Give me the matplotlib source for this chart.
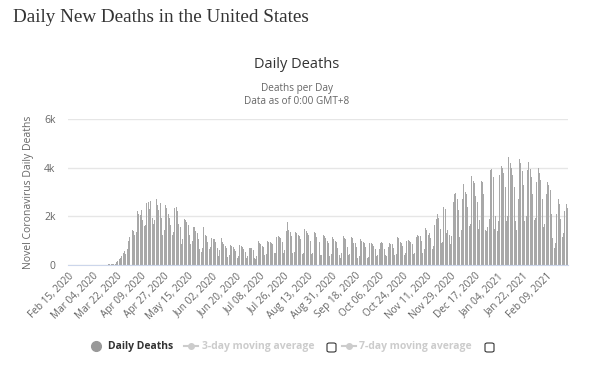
import numpy as np
import pandas as pd
import matplotlib
matplotlib.use("Agg")
import matplotlib.pyplot as plt
from matplotlib.lines import Line2D
from matplotlib.patches import FancyBboxPatch

# Daily deaths, one value per day starting 2020-02-15
feb_2020 = [0, 0, 0, 0, 0, 0, 0, 0, 0, 0, 0, 0, 0, 0, 1]
mar_2020 = [1, 5, 1, 4, 1, 2, 3, 4, 4, 4, 8, 7, 10, 10, 10, 23, 27, 40, 56, 49,
            60, 120, 160, 250, 300, 380, 480, 560, 450, 650, 1000]
apr_2020 = [1150, 1200, 1450, 1400, 1250, 1350, 2200, 2100, 2050, 2250, 1850, 1600,
            1650, 2550, 2600, 2300, 2650, 1950, 1700, 1850, 2700, 2450, 2250, 2550,
            1950, 1250, 1450, 2450, 2350, 2100]
may_2020 = [1950, 1650, 1250, 1350, 2350, 2400, 2200, 1700, 1550, 850, 1050, 1900,
            1850, 1750, 1650, 1250, 850, 1000, 1570, 1550, 1400, 1300, 1050, 650,
            550, 700, 1560, 1250, 1200, 950, 650]
jun_2020 = [750, 1100, 1050, 1050, 950, 700, 380, 600, 1100, 950, 880, 800, 680, 330,
            420, 820, 800, 760, 650, 590, 280, 380, 830, 800, 720, 650, 550, 290,
            380, 700]
jul_2020 = [700, 680, 620, 280, 250, 390, 1000, 920, 880, 800, 720, 420, 450, 980,
            950, 960, 900, 850, 480, 500, 1150, 1200, 1150, 1100, 950, 500, 600,
            1400, 1780, 1450, 1350]
aug_2020 = [1200, 480, 550, 1360, 1300, 1250, 1200, 1050, 450, 500, 1480, 1400, 1300,
            1250, 1000, 450, 480, 1360, 1300, 1150, 1100, 950, 420, 430, 1240, 1200,
            1100, 1000, 900, 380, 450]
sep_2020 = [1150, 1050, 1000, 950, 700, 400, 300, 480, 1200, 1100, 1050, 750, 400,
            450, 1150, 1100, 900, 900, 750, 300, 350, 1060, 1000, 950, 900, 750, 280,
            330, 920, 900]
oct_2020 = [850, 800, 650, 350, 400, 650, 900, 950, 900, 650, 400, 350, 750, 900, 850,
            850, 700, 400, 450, 1170, 1100, 950, 900, 800, 400, 480, 1000, 1030, 1000,
            950, 850]
nov_2020 = [450, 500, 1150, 1240, 1200, 1200, 1000, 500, 650, 1510, 1450, 1250, 1300,
            1100, 650, 800, 1650, 1900, 2100, 1950, 1500, 900, 950, 2380, 2300, 1300,
            1450, 1250, 850, 1200]
dec_2020 = [2600, 2900, 2960, 2700, 2250, 1150, 1450, 2700, 3330, 3000, 2900, 2400,
            1600, 1700, 3670, 3450, 3350, 2850, 2600, 1500, 1850, 3460, 3400, 2900,
            1450, 1400, 1550, 1900, 3900, 3960, 3600]
jan_2021 = [1500, 2000, 1380, 1800, 3700, 4080, 4000, 3800, 3200, 1790, 2000, 4450,
            4200, 4000, 3700, 3200, 1800, 1450, 2700, 4370, 4200, 3850, 3300, 1790,
            2000, 3900, 4250, 3950, 3600, 2900, 1860]
feb_2021 = [1950, 3400, 4000, 3800, 3500, 2700, 1570, 1700, 2900, 3400, 3300, 3100,
            2100, 1100, 700, 900, 2100, 2720, 2500, 1900, 1150, 1300, 2200, 2500, 2350]

deaths = (feb_2020 + mar_2020 + apr_2020 + may_2020 + jun_2020 + jul_2020 + aug_2020
          + sep_2020 + oct_2020 + nov_2020 + dec_2020 + jan_2021 + feb_2021)
dates = pd.date_range("2020-02-15", periods=len(deaths), freq="D")

y_ticks = [0, 2000, 4000, 6000]
y_tick_labels = ["0", "2k", "4k", "6k"]
legend_labels = ["Daily Deaths", "3-day moving average", "7-day moving average"]

plt.rcParams["font.family"] = ["Open Sans", "DejaVu Sans"]

W, H = 607, 366
fig = plt.figure(figsize=(W / 100, H / 100), dpi=100)
fig.patch.set_facecolor("white")

# plot area in pixels: x 68..568, y 119..265
ax = fig.add_axes([68 / W, 1 - 265 / H, 500 / W, 146 / H])
x = np.arange(len(deaths))
ax.bar(x, deaths, width=0.75, color="#a8a8a8", linewidth=0)

ax.set_xlim(-0.5, len(deaths) - 0.5)
ax.set_ylim(0, 6000)
ax.set_yticks(y_ticks)
ax.set_yticklabels(y_tick_labels)
ax.grid(axis="y", color="#e6e6e6", linewidth=1)
ax.set_axisbelow(True)
for side in ["top", "right", "left"]:
    ax.spines[side].set_visible(False)
ax.spines["bottom"].set_color("#ccd6eb")
ax.tick_params(axis="y", length=0, pad=9, labelsize=7.5, labelcolor="#666666")

tick_pos = x[::18]
ax.set_xticks(tick_pos)
ax.set_xticklabels([dates[i].strftime("%b %d, %Y") for i in tick_pos],
                   rotation=45, ha="right", rotation_mode="anchor")
ax.tick_params(axis="x", length=0, pad=4, labelsize=7.2, labelcolor="#666666")

ax.set_ylabel("Novel Coronavirus Daily Deaths", fontsize=7.5, color="#666666", labelpad=7)

# titles
fig.text(13 / W, 1 - 17 / H, "Daily New Deaths in the United States", family="Liberation Serif",
         fontsize=13.8, color="#333333", va="center", ha="left")
fig.text(297 / W, 1 - 64 / H, "Daily Deaths", fontsize=10.5, color="#333333", ha="center", va="center")
fig.text(297 / W, 1 - 88 / H, "Deaths per Day", fontsize=7.2, color="#666666", ha="center", va="center")
fig.text(297 / W, 1 - 101 / H, "Data as of 0:00 GMT+8", fontsize=7.2, color="#666666", ha="center", va="center")

# legend
ly = 1 - 346 / H
fig.add_artist(Line2D([96 / W], [ly], marker="o", markersize=7, color="#999999",
                      linestyle="none", transform=fig.transFigure))
fig.text(108 / W, ly, legend_labels[0], fontsize=7.5, fontweight="bold", color="#333333", va="center")
for lx, tx, bx, label in [(184, 202, 327, legend_labels[1]), (342, 359, 485, legend_labels[2])]:
    fig.add_artist(Line2D([lx / W, (lx + 14) / W], [ly, ly], color="#cccccc", linewidth=1.5,
                          transform=fig.transFigure))
    fig.add_artist(Line2D([(lx + 7) / W], [ly], marker="o", markersize=4, color="#cccccc",
                          linestyle="none", transform=fig.transFigure))
    fig.text(tx / W, ly, label, fontsize=7.5, fontweight="bold", color="#cccccc", va="center")
    fig.add_artist(FancyBboxPatch((bx / W, (H - 352) / H), 9 / W, 9 / H,
                                  boxstyle="round,pad=0,rounding_size=0.004",
                                  facecolor="white", edgecolor="#333333", linewidth=0.8,
                                  transform=fig.transFigure))

fig.savefig("out.png", dpi=100)
